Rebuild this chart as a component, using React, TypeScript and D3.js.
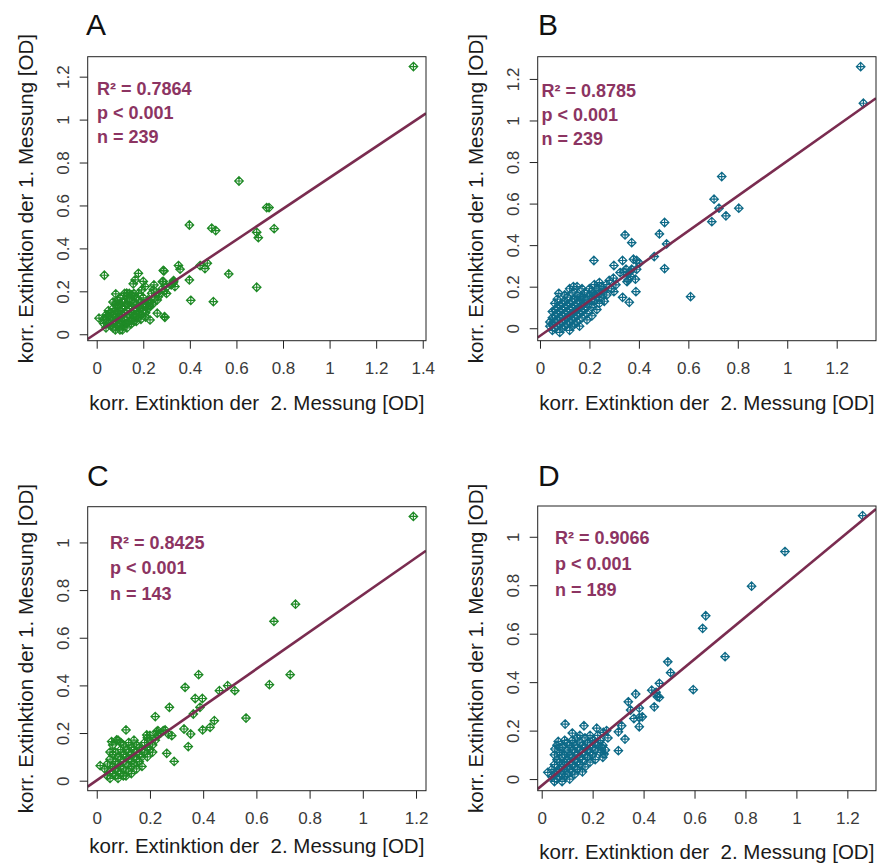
import React, { useEffect, useRef } from "react";
import * as d3 from "d3";

// hand-read points (x = 2. Messung, y = 1. Messung)
const pointsA: [number, number][] = [
	[1.36, 1.247], [0.611, 0.714], [0.73, 0.59], [0.74, 0.59], [0.762, 0.492], [0.687, 0.475], [0.694, 0.45],
	[0.687, 0.219], [0.567, 0.281], [0.398, 0.509], [0.494, 0.494], [0.511, 0.483], [0.501, 0.152], [0.404, 0.158],
	[0.398, 0.253], [0.351, 0.32], [0.358, 0.303], [0.444, 0.32], [0.465, 0.306], [0.475, 0.331], [0.286, 0.297],
	[0.286, 0.246], [0.33, 0.246], [0.336, 0.222], [0.291, 0.082], [0.033, 0.275], [0.179, 0.284], [0.165, 0.253],
	[0.157, 0.235], [0.2, 0.246], [0.208, 0.222], [0.193, 0.207], [0.246, 0.23], [0.243, 0.207], [0.3, 0.19],
	[0.265, 0.175], [0.082, 0.188], [0.129, 0.191], [0.15, 0.183], [0.222, 0.144], [0.215, 0.129], [0.26, 0.098],
	[0.229, 0.067], [0.01, 0.075], [0.289, 0.295], [0.282, 0.245], [0.329, 0.24], [0.236, 0.191], [0.293, 0.079],
	[0.03, 0.05], [0.04, 0.03], [0.04, 0.07], [0.05, 0.05], [0.05, 0.09], [0.06, 0.04], [0.06, 0.07], [0.06, 0.10],
	[0.07, 0.03], [0.07, 0.05], [0.07, 0.09], [0.07, 0.12], [0.08, 0.02], [0.08, 0.06], [0.08, 0.08], [0.08, 0.11],
	[0.08, 0.14], [0.09, 0.04], [0.09, 0.07], [0.09, 0.10], [0.09, 0.12], [0.09, 0.16], [0.10, 0.02], [0.10, 0.05],
	[0.10, 0.08], [0.10, 0.11], [0.10, 0.14], [0.11, 0.04], [0.11, 0.06], [0.11, 0.09], [0.11, 0.12], [0.11, 0.15],
	[0.12, 0.05], [0.12, 0.07], [0.12, 0.10], [0.12, 0.13], [0.12, 0.15], [0.13, 0.05], [0.13, 0.08], [0.13, 0.11],
	[0.13, 0.14], [0.13, 0.18], [0.14, 0.06], [0.14, 0.09], [0.14, 0.12], [0.14, 0.16], [0.15, 0.07], [0.15, 0.10],
	[0.15, 0.13], [0.15, 0.18], [0.16, 0.06], [0.16, 0.09], [0.16, 0.11], [0.16, 0.15], [0.17, 0.08], [0.17, 0.12],
	[0.17, 0.14], [0.17, 0.17], [0.18, 0.08], [0.18, 0.10], [0.18, 0.13], [0.18, 0.16], [0.19, 0.09], [0.19, 0.12],
	[0.19, 0.15], [0.20, 0.11], [0.20, 0.13], [0.20, 0.17], [0.21, 0.10], [0.21, 0.14], [0.22, 0.12], [0.22, 0.16],
	[0.23, 0.13], [0.23, 0.15], [0.24, 0.14], [0.25, 0.17], [0.26, 0.16], [0.27, 0.19], [0.28, 0.21], [0.29, 0.20],
	[0.30, 0.22], [0.32, 0.23], [0.33, 0.25], [0.06, 0.08], [0.05, 0.11], [0.04, 0.09], [0.03, 0.07], [0.10, 0.17],
	[0.12, 0.19], [0.14, 0.19], [0.07, 0.15], [0.09, 0.14], [0.11, 0.02], [0.13, 0.03], [0.15, 0.05], [0.17, 0.06],
	[0.19, 0.07], [0.21, 0.08], [0.16, 0.19], [0.18, 0.19]
];

const pointsB: [number, number][] = [
	[1.297, 1.259], [1.308, 1.083], [0.735, 0.73], [0.704, 0.621], [0.724, 0.578], [0.695, 0.513], [0.752, 0.541],
	[0.804, 0.578], [0.504, 0.509], [0.483, 0.454], [0.512, 0.406], [0.504, 0.287], [0.462, 0.345], [0.609, 0.152],
	[0.344, 0.449], [0.371, 0.412], [0.218, 0.326], [0.334, 0.326], [0.378, 0.332], [0.391, 0.326], [0.402, 0.313],
	[0.299, 0.302], [0.348, 0.284], [0.324, 0.268], [0.371, 0.284], [0.391, 0.284], [0.297, 0.241], [0.307, 0.209],
	[0.299, 0.176], [0.357, 0.233], [0.367, 0.249], [0.388, 0.176], [0.334, 0.149], [0.361, 0.125], [0.135, 0.2],
	[0.339, 0.272], [0.365, 0.272], [0.352, 0.224], [0.386, 0.236], [0.163, 0.152], [0.076, 0.168],
	[0.04, 0.01], [0.04, 0.03], [0.05, -0.01], [0.05, 0.02], [0.05, 0.05], [0.06, 0.00], [0.06, 0.03], [0.06, 0.06],
	[0.06, 0.09], [0.07, 0.01], [0.07, 0.04], [0.07, 0.07], [0.07, 0.10], [0.07, 0.14], [0.08, -0.02], [0.08, 0.02],
	[0.08, 0.05], [0.08, 0.08], [0.08, 0.11], [0.09, 0.00], [0.09, 0.03], [0.09, 0.06], [0.09, 0.09], [0.09, 0.12],
	[0.10, 0.01], [0.10, 0.04], [0.10, 0.07], [0.10, 0.10], [0.10, 0.13], [0.11, 0.02], [0.11, 0.05], [0.11, 0.08],
	[0.11, 0.11], [0.11, 0.15], [0.12, 0.03], [0.12, 0.06], [0.12, 0.09], [0.12, 0.12], [0.13, 0.01], [0.13, 0.04],
	[0.13, 0.07], [0.13, 0.10], [0.13, 0.13], [0.13, 0.17], [0.14, 0.05], [0.14, 0.08], [0.14, 0.11], [0.14, 0.14],
	[0.15, 0.03], [0.15, 0.06], [0.15, 0.09], [0.15, 0.12], [0.15, 0.16], [0.16, 0.07], [0.16, 0.10], [0.16, 0.13],
	[0.17, 0.05], [0.17, 0.08], [0.17, 0.11], [0.17, 0.15], [0.18, 0.09], [0.18, 0.12], [0.18, 0.17], [0.19, 0.07],
	[0.19, 0.10], [0.19, 0.14], [0.20, 0.12], [0.20, 0.16], [0.20, 0.19], [0.21, 0.10], [0.21, 0.14], [0.21, 0.18],
	[0.22, 0.13], [0.22, 0.16], [0.22, 0.21], [0.23, 0.15], [0.23, 0.19], [0.24, 0.12], [0.24, 0.17], [0.24, 0.22],
	[0.25, 0.15], [0.25, 0.20], [0.26, 0.13], [0.26, 0.18], [0.27, 0.16], [0.27, 0.21], [0.19, 0.04], [0.16, 0.01],
	[0.12, -0.01], [0.06, 0.12], [0.05, 0.08], [0.10, 0.16], [0.12, 0.19], [0.15, 0.20], [0.17, 0.19], [0.14, 0.02],
	[0.23, 0.09], [0.21, 0.06], [0.28, 0.23], [0.29, 0.19]
];

const pointsC: [number, number][] = [
	[1.19, 1.109], [0.747, 0.741], [0.666, 0.669], [0.727, 0.445], [0.649, 0.403], [0.561, 0.263], [0.383, 0.445],
	[0.332, 0.392], [0.461, 0.378], [0.492, 0.399], [0.519, 0.378], [0.37, 0.345], [0.397, 0.345], [0.388, 0.308],
	[0.363, 0.28], [0.273, 0.308], [0.22, 0.269], [0.398, 0.213], [0.426, 0.224], [0.442, 0.252], [0.328, 0.217],
	[0.353, 0.196], [0.344, 0.143], [0.263, 0.115], [0.291, 0.081], [0.269, 0.196], [0.282, 0.189], [0.23, 0.21],
	[0.11, 0.213], [0.013, 0.063], [0.225, 0.206], [0.257, 0.213], [0.188, 0.192], [0.2, 0.171], [0.056, 0.164],
	[0.075, 0.171],
	[0.03, 0.05], [0.04, 0.02], [0.04, 0.07], [0.05, 0.01], [0.05, 0.04], [0.05, 0.09], [0.06, 0.03], [0.06, 0.06],
	[0.06, 0.11], [0.06, 0.15], [0.07, 0.02], [0.07, 0.05], [0.07, 0.08], [0.07, 0.12], [0.08, 0.04], [0.08, 0.07],
	[0.08, 0.10], [0.08, 0.17], [0.09, 0.03], [0.09, 0.06], [0.09, 0.09], [0.09, 0.13], [0.10, 0.05], [0.10, 0.08],
	[0.10, 0.11], [0.10, 0.15], [0.11, 0.02], [0.11, 0.07], [0.11, 0.10], [0.11, 0.13], [0.12, 0.04], [0.12, 0.09],
	[0.12, 0.12], [0.12, 0.16], [0.13, 0.06], [0.13, 0.08], [0.13, 0.11], [0.13, 0.14], [0.14, 0.07], [0.14, 0.10],
	[0.14, 0.13], [0.15, 0.09], [0.15, 0.12], [0.15, 0.15], [0.16, 0.08], [0.16, 0.11], [0.16, 0.14], [0.17, 0.10],
	[0.17, 0.13], [0.18, 0.12], [0.18, 0.16], [0.19, 0.10], [0.19, 0.14], [0.19, 0.18], [0.20, 0.13], [0.20, 0.19],
	[0.21, 0.15], [0.22, 0.17], [0.23, 0.19], [0.24, 0.20], [0.25, 0.21], [0.09, 0.16], [0.05, 0.12], [0.13, 0.03],
	[0.15, 0.05], [0.17, 0.06], [0.08, 0.01], [0.10, 0.02], [0.21, 0.12], [0.14, 0.17]
];

const pointsD: [number, number][] = [
	[1.26, 1.087], [0.955, 0.939], [0.824, 0.796], [0.72, 0.505], [0.644, 0.674], [0.632, 0.622], [0.595, 0.369],
	[0.495, 0.484], [0.506, 0.439], [0.462, 0.395], [0.432, 0.367], [0.449, 0.358], [0.454, 0.34], [0.462, 0.337],
	[0.442, 0.298], [0.369, 0.351], [0.34, 0.319], [0.349, 0.285], [0.383, 0.293], [0.395, 0.257], [0.383, 0.254],
	[0.362, 0.25], [0.383, 0.216], [0.301, 0.195], [0.314, 0.22], [0.327, 0.165], [0.301, 0.117], [0.092, 0.227],
	[0.166, 0.22], [0.216, 0.21], [0.242, 0.193], [0.255, 0.2], [0.236, 0.131], [0.245, 0.103], [0.065, 0.155],
	[0.052, 0.124], [0.024, 0.028],
	[0.04, 0.01], [0.04, 0.04], [0.05, -0.01], [0.05, 0.02], [0.05, 0.06], [0.06, 0.00], [0.06, 0.03], [0.06, 0.08],
	[0.06, 0.14], [0.07, 0.01], [0.07, 0.04], [0.07, 0.07], [0.07, 0.11], [0.08, -0.01], [0.08, 0.02], [0.08, 0.05],
	[0.08, 0.09], [0.08, 0.13], [0.09, 0.01], [0.09, 0.04], [0.09, 0.07], [0.09, 0.10], [0.09, 0.16], [0.10, 0.02],
	[0.10, 0.05], [0.10, 0.08], [0.10, 0.12], [0.11, 0.00], [0.11, 0.04], [0.11, 0.07], [0.11, 0.10], [0.11, 0.14],
	[0.12, 0.03], [0.12, 0.06], [0.12, 0.09], [0.12, 0.12], [0.12, 0.16], [0.13, 0.05], [0.13, 0.08], [0.13, 0.11],
	[0.13, 0.14], [0.14, 0.04], [0.14, 0.07], [0.14, 0.10], [0.14, 0.13], [0.14, 0.17], [0.15, 0.06], [0.15, 0.09],
	[0.15, 0.12], [0.15, 0.15], [0.16, 0.08], [0.16, 0.11], [0.16, 0.14], [0.17, 0.05], [0.17, 0.10], [0.17, 0.13],
	[0.17, 0.17], [0.18, 0.09], [0.18, 0.12], [0.18, 0.15], [0.19, 0.11], [0.19, 0.14], [0.19, 0.18], [0.20, 0.10],
	[0.20, 0.13], [0.20, 0.16], [0.21, 0.12], [0.21, 0.15], [0.22, 0.14], [0.22, 0.18], [0.23, 0.11], [0.23, 0.16],
	[0.24, 0.09], [0.24, 0.14], [0.25, 0.12], [0.26, 0.17], [0.10, 0.15], [0.07, 0.13], [0.05, 0.10], [0.13, 0.02],
	[0.16, 0.03], [0.19, 0.07], [0.21, 0.08], [0.12, 0.19], [0.15, 0.18]
];

// regression lines (slope, intercept)
const fitSlopes = [0.7236, 0.842, 0.7786, 0.8697];
const fitIntercepts = [0.0059, -0.037, 0.0015, -0.027];

const panelLetters = ["A", "B", "C", "D"];
const statR2 = ["0.7864", "0.8785", "0.8425", "0.9066"];
const statN = ["239", "239", "143", "189"];
const xTicks = [
	[0, 0.2, 0.4, 0.6, 0.8, 1, 1.2, 1.4],
	[0, 0.2, 0.4, 0.6, 0.8, 1, 1.2],
	[0, 0.2, 0.4, 0.6, 0.8, 1, 1.2],
	[0, 0.2, 0.4, 0.6, 0.8, 1, 1.2]
];
const yTicks = [
	[0, 0.2, 0.4, 0.6, 0.8, 1, 1.2],
	[0, 0.2, 0.4, 0.6, 0.8, 1, 1.2],
	[0, 0.2, 0.4, 0.6, 0.8, 1],
	[0, 0.2, 0.4, 0.6, 0.8, 1]
];

const X_TITLE = "korr. Extinktion der  2. Messung [OD]";
const Y_TITLE = "korr. Extinktion der 1. Messung [OD]";

const GREEN = "#1f8a26";
const TEAL = "#0e6a88";
const STAT_COLOR = "#8c3462";
const LINE_COLOR = "#7a2c50";
const FONT = "'Liberation Sans', Arial, sans-serif";

// panel frames
const PANELS = [
	{ data: pointsA, color: GREEN, box: [87.7, 56.7, 426, 340.7], xDom: [-0.0386, 1.414], yDom: [-0.03, 1.293],
		letter: [86, 35], stat: [97, 95, 24], xTitleY: 410 },
	{ data: pointsB, color: TEAL, box: [537.7, 56.7, 876, 340.7], xDom: [-0.0093, 1.359], yDom: [-0.06, 1.307],
		letter: [538, 35], stat: [541.5, 96.5, 24], xTitleY: 410 },
	{ data: pointsC, color: GREEN, box: [87.7, 506.7, 426, 790.7], xDom: [-0.034, 1.2375], yDom: [-0.042, 1.15],
		letter: [87, 485.5], stat: [110, 549, 25.4], xTitleY: 853 },
	{ data: pointsD, color: TEAL, box: [537.7, 506, 876, 790.7], xDom: [-0.0157, 1.3125], yDom: [-0.048, 1.127],
		letter: [538, 485.5], stat: [555, 544, 25.8], xTitleY: 859 }
];

const fmt = (d: number) => String(+d.toFixed(1));

export default function App() {
	const ref = useRef<SVGSVGElement>(null);

	useEffect(() => {
		const svg = d3.select(ref.current);
		svg.selectAll("*").remove();

		PANELS.forEach((p, i) => {
			const [x0, y0, x1, y1] = p.box;
			const xScale = d3.scaleLinear().domain(p.xDom).range([x0, x1]);
			const yScale = d3.scaleLinear().domain(p.yDom).range([y1, y0]);
			const g = svg.append("g").attr("class", "panel");

			const clipId = "clip-" + i;
			g.append("clipPath").attr("id", clipId)
				.append("rect").attr("x", x0).attr("y", y0).attr("width", x1 - x0).attr("height", y1 - y0);

			// points: diamond with plus (R pch 9)
			const r = 4.3;
			const marker = `M0,${-r}L${r},0L0,${r}L${-r},0ZM0,${-r}L0,${r}M${-r},0L${r},0`;
			g.append("g").attr("clip-path", `url(#${clipId})`)
				.selectAll("path").data(p.data).enter().append("path")
				.attr("transform", d => `translate(${xScale(d[0])},${yScale(d[1])})`)
				.attr("d", marker)
				.attr("fill", "none")
				.attr("stroke", p.color)
				.attr("stroke-width", 1.2);

			// regression line, on top of the points
			const [dx0, dx1] = p.xDom;
			g.append("line")
				.attr("clip-path", `url(#${clipId})`)
				.attr("x1", xScale(dx0)).attr("y1", yScale(fitSlopes[i] * dx0 + fitIntercepts[i]))
				.attr("x2", xScale(dx1)).attr("y2", yScale(fitSlopes[i] * dx1 + fitIntercepts[i]))
				.attr("stroke", LINE_COLOR).attr("stroke-width", 2.6);

			// box
			g.append("rect").attr("x", x0).attr("y", y0).attr("width", x1 - x0).attr("height", y1 - y0)
				.attr("fill", "none").attr("stroke", "#222").attr("stroke-width", 1);

			// x axis
			const xAxis = d3.axisBottom(xScale).tickValues(xTicks[i]).tickSizeInner(8).tickSizeOuter(0)
				.tickPadding(13).tickFormat(d => fmt(+d));
			const gx = g.append("g").attr("transform", `translate(0,${y1})`).call(xAxis);
			gx.select(".domain").remove();
			gx.selectAll("line").attr("stroke", "#222");
			gx.selectAll("text").attr("font-family", FONT).attr("font-size", 17).attr("fill", "#3a3a3a");

			// y axis, labels parallel to the axis
			const yAxis = d3.axisLeft(yScale).tickValues(yTicks[i]).tickSizeInner(8).tickSizeOuter(0)
				.tickFormat(d => fmt(+d));
			const gy = g.append("g").attr("transform", `translate(${x0},0)`).call(yAxis);
			gy.select(".domain").remove();
			gy.selectAll("line").attr("stroke", "#222");
			gy.selectAll("text")
				.attr("transform", "rotate(-90)")
				.attr("x", 0).attr("y", -25).attr("dy", "0.35em")
				.attr("text-anchor", "middle")
				.attr("font-family", FONT).attr("font-size", 17).attr("fill", "#3a3a3a");

			// axis titles
			g.append("text")
				.attr("x", (x0 + x1) / 2).attr("y", p.xTitleY)
				.attr("text-anchor", "middle").style("white-space", "pre")
				.attr("font-family", FONT).attr("font-size", 20.5).attr("fill", "#1a1a1a")
				.text(X_TITLE);
			g.append("text")
				.attr("transform", `translate(${x0 - 62},${(y0 + y1) / 2}) rotate(-90)`)
				.attr("dy", "0.35em")
				.attr("text-anchor", "middle")
				.attr("font-family", FONT).attr("font-size", 20.5).attr("fill", "#1a1a1a")
				.text(Y_TITLE);

			// panel letter
			g.append("text").attr("x", p.letter[0]).attr("y", p.letter[1])
				.attr("font-family", FONT).attr("font-size", 30).attr("fill", "#111")
				.text(panelLetters[i]);

			// stats
			const [sx, sy, sdy] = p.stat;
			const lines = [`R² = ${statR2[i]}`, "p < 0.001", `n = ${statN[i]}`];
			g.append("g").selectAll("text").data(lines).enter().append("text")
				.attr("x", sx).attr("y", (d, k) => sy + k * sdy)
				.attr("font-family", FONT).attr("font-size", 18).attr("font-weight", "bold")
				.attr("fill", STAT_COLOR)
				.text(d => d);
		});
	}, []);

	return (
		<svg ref={ref} width={880} height={868}
			style={{ display: "block", position: "absolute", left: 0, top: 0, background: "#fff" }} />
	);
}
